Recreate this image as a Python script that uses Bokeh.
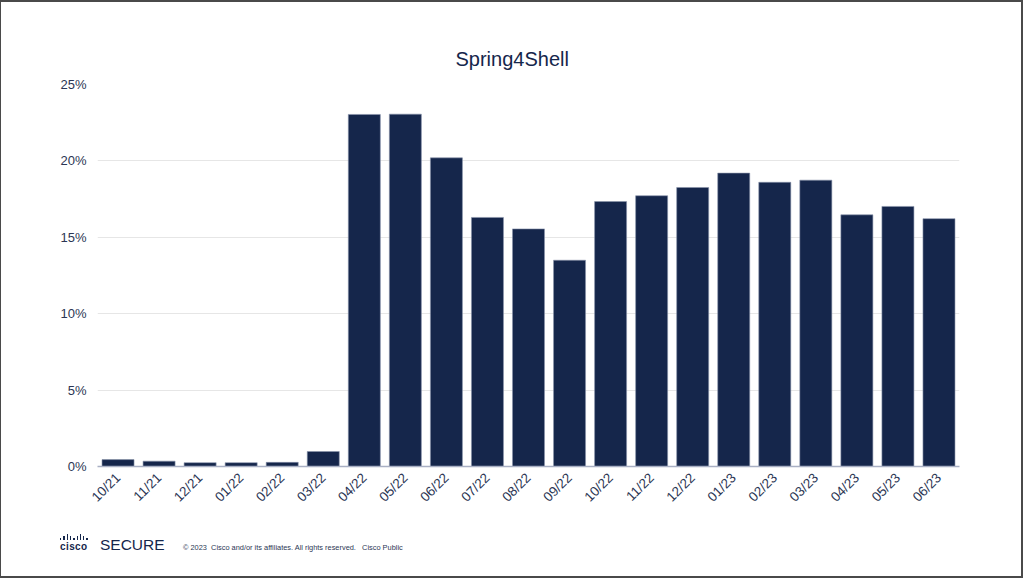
from bokeh.plotting import figure
from bokeh.models import ColumnDataSource, NumeralTickFormatter, FixedTicker, Range1d, Div
from bokeh.layouts import column
from bokeh.embed import file_html
from bokeh.resources import INLINE
import math

months = ["10/21", "11/21", "12/21", "01/22", "02/22", "03/22", "04/22", "05/22", "06/22",
          "07/22", "08/22", "09/22", "10/22", "11/22", "12/22", "01/23", "02/23", "03/23",
          "04/23", "05/23", "06/23"]
share = [0.45, 0.35, 0.25, 0.25, 0.27, 0.98, 23.04, 23.06, 20.2,
         16.3, 15.55, 13.5, 17.34, 17.72, 18.26, 19.2, 18.6, 18.74,
         16.47, 17.02, 16.22]
y_ticks = [0, 5, 10, 15, 20, 25]
title_text = "Spring4Shell"
brand_text = "SECURE"
logo_text = "cisco"
legal_text = "\u00a9 2023&nbsp; Cisco and/or its affiliates. All rights reserved.&nbsp;&nbsp; Cisco Public"

NAVY = "#15264b"
TEXT = "#2b3654"
FONT = "Liberation Sans"

src = ColumnDataSource(dict(m=months, v=[s / 100 for s in share]))

p = figure(x_range=months, y_range=Range1d(0, 0.25), width=1024, height=512,
           output_backend="svg", toolbar_location=None, title=title_text,
           min_border_left=97, min_border_right=65, min_border_top=84, min_border_bottom=46)
p.vbar(x="m", top="v", width=0.78, source=src, fill_color=NAVY, line_color="#8a93ab", line_width=0.6)

p.title.align = "left"
p.title.offset = 358
p.title.standoff = 30
p.title.text_font = FONT
p.title.text_font_size = "20px"
p.title.text_font_style = "normal"
p.title.text_color = NAVY

p.outline_line_color = None
p.xgrid.grid_line_color = None
p.ygrid.grid_line_color = "#e6e6e6"
p.ygrid.grid_line_width = 1
p.yaxis.ticker = FixedTicker(ticks=[t / 100 for t in y_ticks])
p.yaxis.formatter = NumeralTickFormatter(format="0%")
p.yaxis.axis_line_color = None
p.yaxis.major_tick_line_color = None
p.yaxis.minor_tick_line_color = None
p.yaxis.major_label_text_font = FONT
p.yaxis.major_label_text_font_size = "13px"
p.yaxis.major_label_text_color = TEXT
p.yaxis.major_label_standoff = 5

p.xaxis.axis_line_color = "#a9b0c4"
p.xaxis.axis_line_width = 1.5
p.xaxis.major_tick_line_color = None
p.xaxis.minor_tick_line_color = None
p.xaxis.major_label_orientation = math.pi / 4
p.xaxis.major_label_text_font = FONT
p.xaxis.major_label_text_font_size = "13.5px"
p.xaxis.major_label_text_color = TEXT
p.xaxis.major_label_standoff = 3

bar_h = [2, 4, 6, 4, 2, 4, 6, 4, 2]
bars_html = "".join(
    f'<div style="position:absolute;left:{61 + i * 3.3:.1f}px;top:{28 - h}px;width:1.4px;height:{h}px;background:{NAVY}"></div>'
    for i, h in enumerate(bar_h))
footer_html = (
    f'<div style="position:relative;left:-6px;top:-5px;width:1024px;height:66px;font-family:\'{FONT}\';color:{NAVY};">'
    f'<div style="position:absolute;left:0;top:-512px;width:1024px;height:578px;box-sizing:border-box;'
    f'border:2px solid #4a4a4a;pointer-events:none"></div>'
    f'{bars_html}'
    f'<div style="position:absolute;left:61px;top:30px;font-size:10px;line-height:10px;font-weight:bold;letter-spacing:0.4px;">{logo_text}</div>'
    f'<div style="position:absolute;left:101px;top:24px;font-size:15.5px;line-height:17px;">{brand_text}</div>'
    f'<div style="position:absolute;left:184px;top:32px;font-size:7.4px;line-height:8px;white-space:nowrap;color:{TEXT};">{legal_text}</div>'
    '</div>')
footer = Div(text=footer_html, width=1024, height=66, styles={"overflow": "visible"})

layout = column(p, footer, spacing=0)

open("out.html", "w").write(file_html(layout, INLINE))
